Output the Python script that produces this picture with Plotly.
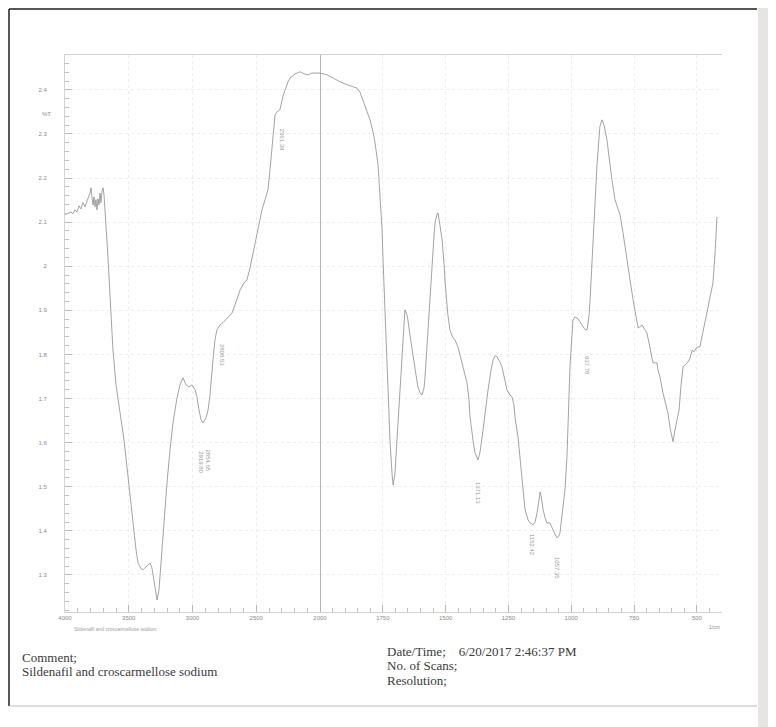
import plotly.graph_objects as go

# ---------------- data ----------------
wn_high = [4000, 3984, 3969, 3953, 3937, 3922, 3906, 3890, 3875, 3859, 3843, 3827, 3812, 3804,
           3796, 3788, 3780, 3773, 3765, 3757, 3749, 3741, 3733, 3725, 3718, 3710, 3702, 3694,
           3678, 3663, 3647, 3624, 3600, 3569, 3537, 3514, 3490, 3467, 3443, 3427, 3404, 3388,
           3357, 3333, 3318, 3302, 3286, 3278, 3263, 3239, 3224, 3200, 3176, 3153, 3122, 3098,
           3075, 3051, 3027, 3004, 2980, 2965, 2949, 2933, 2918, 2894, 2878, 2863, 2839, 2824,
           2808, 2784, 2761, 2722, 2690, 2659, 2627, 2596, 2573, 2549, 2518, 2486, 2455, 2431,
           2408, 2392, 2376, 2361, 2353, 2337, 2314, 2290, 2275, 2251, 2235, 2196, 2157, 2125,
           2094, 2063, 2031, 2000]
t_high = [2.117, 2.119, 2.121, 2.123, 2.119, 2.128, 2.123, 2.137, 2.130, 2.144, 2.135, 2.151, 2.160, 2.166,
          2.178, 2.155, 2.139, 2.157, 2.135, 2.151, 2.128, 2.153, 2.139, 2.166, 2.144, 2.169, 2.178, 2.162,
          2.094, 2.021, 1.935, 1.810, 1.731, 1.667, 1.606, 1.545, 1.477, 1.409, 1.357, 1.327, 1.314, 1.312,
          1.321, 1.327, 1.316, 1.284, 1.253, 1.243, 1.266, 1.357, 1.425, 1.509, 1.584, 1.645, 1.701, 1.731,
          1.747, 1.731, 1.726, 1.731, 1.720, 1.704, 1.674, 1.652, 1.645, 1.656, 1.674, 1.708, 1.788, 1.833,
          1.856, 1.867, 1.872, 1.883, 1.894, 1.919, 1.946, 1.962, 1.969, 1.996, 2.042, 2.089, 2.128, 2.151,
          2.173, 2.219, 2.271, 2.321, 2.343, 2.350, 2.355, 2.386, 2.400, 2.418, 2.427, 2.436, 2.441, 2.436,
          2.434, 2.438, 2.438, 2.438]

wn_low = [2000, 1984, 1972, 1948, 1920, 1889, 1853, 1841, 1829, 1817, 1801, 1789, 1781, 1769, 1761,
          1753, 1749, 1741, 1733, 1725, 1721, 1713, 1709, 1702, 1690, 1682, 1674, 1666, 1662, 1654,
          1650, 1642, 1630, 1618, 1610, 1602, 1594, 1586, 1582, 1574, 1570, 1562, 1554, 1546, 1542,
          1534, 1530, 1522, 1514, 1506, 1502, 1491, 1483, 1471, 1463, 1451, 1443, 1435, 1423, 1415,
          1407, 1403, 1391, 1383, 1371, 1363, 1351, 1339, 1331, 1319, 1311, 1303, 1296, 1284, 1276,
          1264, 1256, 1244, 1236, 1228, 1224, 1212, 1204, 1192, 1184, 1172, 1164, 1152, 1144, 1136,
          1128, 1124, 1120, 1112, 1104, 1097, 1085, 1077, 1069, 1057, 1049, 1045, 1037, 1025, 1017,
          1013, 1005, 997, 993, 985, 973, 965, 953, 945, 937, 929, 925, 917, 913, 905,
          898, 890, 886, 878, 870, 858, 846, 838, 826, 814, 806, 794, 786, 774, 766,
          754, 742, 734, 726, 718, 707, 699, 687, 675, 667, 659, 655, 647, 635, 627,
          615, 607, 595, 587, 579, 571, 563, 555, 543, 535, 527, 519, 511, 499, 488,
          476, 468, 456, 444, 436, 428, 420]
t_low = [2.438, 2.436, 2.434, 2.427, 2.418, 2.411, 2.404, 2.395, 2.377, 2.359, 2.332, 2.305, 2.280, 2.230, 2.166,
         2.082, 2.014, 1.901, 1.788, 1.652, 1.600, 1.527, 1.504, 1.527, 1.645, 1.731, 1.810, 1.883, 1.901, 1.890,
         1.878, 1.844, 1.795, 1.754, 1.726, 1.713, 1.708, 1.724, 1.749, 1.822, 1.872, 1.946, 2.021, 2.071, 2.098,
         2.119, 2.121, 2.094, 2.060, 2.003, 1.962, 1.890, 1.856, 1.838, 1.833, 1.817, 1.799, 1.781, 1.758, 1.736,
         1.697, 1.658, 1.606, 1.577, 1.561, 1.579, 1.629, 1.686, 1.720, 1.765, 1.788, 1.797, 1.795, 1.783, 1.772,
         1.742, 1.720, 1.708, 1.704, 1.686, 1.658, 1.613, 1.568, 1.504, 1.448, 1.425, 1.418, 1.414, 1.420, 1.441,
         1.475, 1.488, 1.479, 1.448, 1.429, 1.418, 1.418, 1.407, 1.398, 1.384, 1.389, 1.395, 1.436, 1.493, 1.568,
         1.645, 1.772, 1.844, 1.878, 1.885, 1.881, 1.874, 1.863, 1.856, 1.856, 1.890, 1.924, 2.014, 2.076, 2.151,
         2.225, 2.287, 2.316, 2.332, 2.321, 2.287, 2.225, 2.196, 2.151, 2.128, 2.117, 2.076, 2.042, 1.999, 1.969,
         1.924, 1.883, 1.860, 1.863, 1.867, 1.856, 1.849, 1.817, 1.781, 1.781, 1.781, 1.765, 1.749, 1.713, 1.697,
         1.667, 1.634, 1.602, 1.629, 1.652, 1.674, 1.731, 1.772, 1.779, 1.783, 1.792, 1.810, 1.806, 1.817, 1.817,
         1.849, 1.874, 1.901, 1.935, 1.962, 2.026, 2.112]

x_ticks_high = [4000, 3500, 3000, 2500]
x_ticks_low = [2000, 1750, 1500, 1250, 1000, 750, 500]
y_ticks = [2.4, 2.3, 2.2, 2.1, 2.0, 1.9, 1.8, 1.7, 1.6, 1.5, 1.4, 1.3]
y_tick_labels = ["2.4", "2.3", "2.2", "2.1", "2", "1.9", "1.8", "1.7", "1.6", "1.5", "1.4", "1.3"]

# peak labels: (axis, wavenumber position, T position, text)
peak_labels = [
    ("x", 2935, 1.556, "2919.80"),
    ("x", 2880, 1.560, "2854.65"),
    ("x", 2769, 1.799, "2808.53"),
    ("x", 2298, 2.287, "2361.39"),
    ("x2", 1371, 1.486, "1371.13"),
    ("x2", 1156, 1.368, "1152.42"),
    ("x2", 1057, 1.316, "1057.35"),
    ("x2", 937, 1.776, "937.78"),
]

comment_lines = ["Comment;", "Sildenafil and croscarmellose sodium"]
info_lines = ["Date/Time;    6/20/2017 2:46:37 PM", "No. of Scans;", "Resolution;"]
caption = "Sildenafil and croscarmellose sodium"

# ---------------- geometry (page body has an 8px offset) ----------------
OFF = 8
PL, PR, PT, PB = 65, 722, 55, 612          # plot frame in window pixels
W, H = 776 - OFF, 727 - OFF
pw, ph = PR - PL, PB - PT


def px(xw):
    return (xw - PL) / pw


def py(yw):
    return (PB - yw) / ph


line_col = "#8c8c8c"
tick_font = dict(family="Liberation Sans, Arial", size=6, color="#8a8a8a")

fig = go.Figure()
fig.add_trace(go.Scatter(x=wn_high, y=t_high, mode="lines", xaxis="x", yaxis="y",
                         line=dict(color=line_col, width=0.8), showlegend=False, hoverinfo="skip"))
fig.add_trace(go.Scatter(x=wn_low, y=t_low, mode="lines", xaxis="x2", yaxis="y",
                         line=dict(color=line_col, width=0.8), showlegend=False, hoverinfo="skip"))

split = (320 - PL) / pw

axis_common = dict(showline=True, linecolor="#d2d2d2", linewidth=1, mirror=True,
                   ticks="inside", ticklen=7, tickcolor="#b8b8b8", tickfont=tick_font,
                   showgrid=True, gridcolor="rgba(215,215,215,0.45)", griddash="dot", gridwidth=0.6,
                   zeroline=False)

fig.update_layout(
    width=W, height=H,
    margin=dict(l=PL - OFF, r=776 - PR, t=PT - OFF, b=727 - PB, autoexpand=False),
    paper_bgcolor="white", plot_bgcolor="white",
    xaxis=dict(domain=[0, split], range=[4000, 2000], tickvals=x_ticks_high,
               minor=dict(dtick=100, ticks="inside", ticklen=4, tickcolor="#c0c0c0", showgrid=False),
               anchor="y", **axis_common),
    xaxis2=dict(domain=[split, 1], range=[2000, 400], tickvals=x_ticks_low,
                minor=dict(dtick=50, ticks="inside", ticklen=4, tickcolor="#c0c0c0", showgrid=False),
                anchor="y", **axis_common),
    yaxis=dict(range=[1.216, 2.479], tickvals=y_ticks, ticktext=y_tick_labels,
               minor=dict(dtick=0.02, ticks="inside", ticklen=4, tickcolor="#c0c0c0", showgrid=False),
               ticklabelstandoff=16, **axis_common),
)

# divider line at 2000 1/cm
fig.add_shape(type="line", xref="x2", yref="paper", x0=2000, x1=2000, y0=0, y1=1,
              line=dict(color="#a0a0a0", width=1.2))

# peak labels
for ax, xv, yv, txt in peak_labels:
    fig.add_annotation(x=xv, y=yv, xref=ax, yref="y", text=txt, textangle=90,
                       showarrow=False, font=dict(family="Liberation Sans, Arial", size=6, color="#9a9a9a"))

# axis captions
fig.add_annotation(x=px(40), y=2.345, xref="paper", yref="y", text="%T", showarrow=False,
                   font=dict(family="Liberation Sans, Arial", size=6, color="#8a8a8a"))
fig.add_annotation(x=px(722), y=py(622), xref="paper", yref="paper", text="1/cm", showarrow=False,
                   xanchor="right", yanchor="top",
                   font=dict(family="Liberation Sans, Arial", size=5, color="#8a8a8a"))
fig.add_annotation(x=px(72), y=py(624), xref="paper", yref="paper", text=caption,
                   showarrow=False, xanchor="left", yanchor="top",
                   font=dict(family="Liberation Sans, Arial", size=5, color="#a0a0a0"))

# report text below chart
serif = dict(family="Liberation Serif, Times New Roman", size=13, color="#3a3a3a")
for txt, ywin in zip(comment_lines, [657, 671]):
    fig.add_annotation(x=px(20), y=py(ywin), xref="paper", yref="paper", text=txt,
                       showarrow=False, xanchor="left", yanchor="middle", font=serif)
for txt, ywin in zip(info_lines, [651, 665, 680]):
    fig.add_annotation(x=px(385), y=py(ywin), xref="paper", yref="paper", text=txt,
                       showarrow=False, xanchor="left", yanchor="middle", font=serif)

# scanned page border and edge shading
fig.add_shape(type="line", xref="paper", yref="paper", x0=px(9), x1=px(757), y0=py(9), y1=py(9),
              line=dict(color="#1e1e1e", width=1.5), layer="below")
fig.add_shape(type="line", xref="paper", yref="paper", x0=px(9), x1=px(9), y0=py(9), y1=py(706),
              line=dict(color="#1e1e1e", width=1.5), layer="below")
fig.add_shape(type="line", xref="paper", yref="paper", x0=px(9), x1=px(757), y0=py(706), y1=py(706),
              line=dict(color="#bdbdbd", width=1), layer="below")
fig.add_shape(type="rect", xref="paper", yref="paper",
              x0=px(758), x1=px(776), y0=py(727), y1=py(OFF),
              line=dict(width=0), fillcolor="rgba(215,212,205,0.6)", layer="below")

fig.write_html("out.html")
